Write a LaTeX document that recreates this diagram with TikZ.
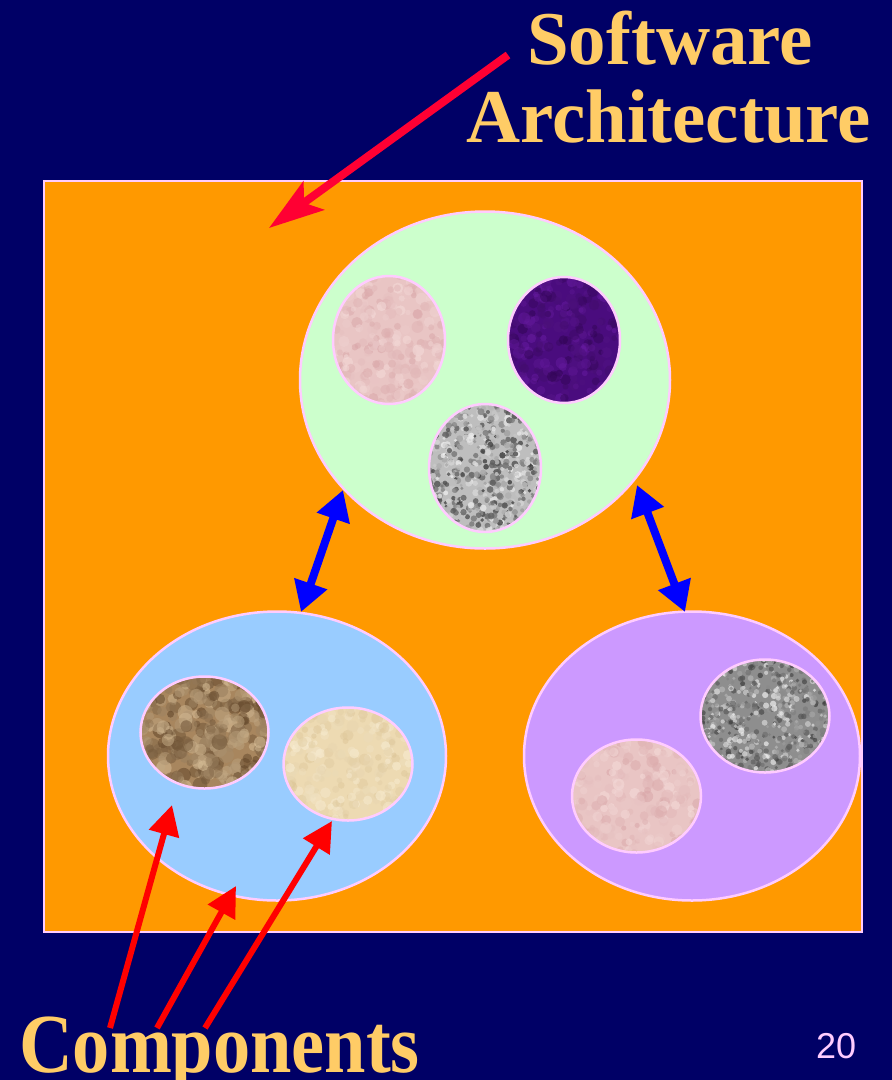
\documentclass[tikz,border=0pt]{standalone}
\usepackage{fontspec}
\setmainfont{Liberation Serif}
\setsansfont{Liberation Sans}
\usetikzlibrary{shapes.geometric,arrows.meta}

\definecolor{bg}{HTML}{000066}
\definecolor{framefill}{HTML}{FF9900}
\definecolor{rim}{HTML}{FFCCFF}
\definecolor{archfill}{HTML}{CCFFCC}
\definecolor{bluefill}{HTML}{99CCFF}
\definecolor{lavfill}{HTML}{CC99FF}
\definecolor{titlecol}{HTML}{FFCC66}
\definecolor{arrowblue}{HTML}{0000FF}
\definecolor{arrowred}{HTML}{FF0000}
\definecolor{arrowcrimson}{HTML}{FF0033}
% texture colours
\definecolor{pinkA}{HTML}{D9A6A8}
\definecolor{pinkB}{HTML}{F5DCDA}
\definecolor{pinkbase}{HTML}{E9C5C4}
\definecolor{purpA}{HTML}{6A1CA6}
\definecolor{purpB}{HTML}{2E0450}
\definecolor{purpbase}{HTML}{4A0C7E}
\definecolor{greyA}{HTML}{3A3A3A}
\definecolor{greyB}{HTML}{F0F0F0}
\definecolor{greybase}{HTML}{BEBEBE}
\definecolor{grey2base}{HTML}{8E8E8E}
\definecolor{brownA}{HTML}{5E4226}
\definecolor{brownB}{HTML}{DCC39C}
\definecolor{brownbase}{HTML}{A8865E}
\definecolor{beigeA}{HTML}{DCC495}
\definecolor{beigeB}{HTML}{FAF0D8}
\definecolor{beigebase}{HTML}{EDDAB2}

% random grain inside a path picture
% #1 count, #2 rx, #3 ry, #4 rmin, #5 rmax, #6 colour A, #7 colour B, #8 opacity
\newcommand\grainfill[8]{%
  \foreach \k in {1,...,#1}{%
    \pgfmathsetmacro\gx{rand*#2}%
    \pgfmathsetmacro\gy{rand*#3}%
    \pgfmathsetmacro\gr{#4+rnd*(#5-#4)}%
    \pgfmathtruncatemacro\gm{random(0,100)}%
    \fill[#6!\gm!#7, opacity=#8]
      ([shift={(\gx,\gy)}]path picture bounding box.center) circle[radius=\gr];
  }%
}

\tikzset{
  bigell/.style={ellipse, draw=rim, line width=2.5pt, inner sep=0pt},
  comp/.style={ellipse, draw=rim, line width=2.5pt, inner sep=0pt},
  bluearrow/.style={draw=arrowblue, line width=8pt,
    {Triangle[length=30pt,width=33pt]}-{Triangle[length=30pt,width=33pt]}},
  redarrow/.style={draw=arrowred, line width=6pt, -{Triangle[length=30pt,width=30pt]}},
  toparrow/.style={draw=arrowcrimson, line width=8pt,
    -{Stealth[length=55pt,width=35pt,inset=12pt]}},
  titletext/.style={font=\fontsize{76}{80}\selectfont\bfseries, text=titlecol,
    inner sep=0pt, anchor=base west},
}

\begin{document}
\begin{tikzpicture}[x=1pt,y=-1pt]
\pgfmathsetseed{2024}
\useasboundingbox (0,0) rectangle (892,1080);
\fill[bg] (0,0) rectangle (892,1080);

% architecture frame
\node[draw=rim, fill=framefill, line width=2pt, inner sep=0pt,
      minimum width=818pt, minimum height=751pt] (frame) at (453,556.5) {};

% big ellipses
\node[bigell, fill=archfill, minimum width=370pt, minimum height=337pt] (arch) at (485,380) {};
\node[bigell, fill=bluefill, minimum width=338pt, minimum height=289pt] (left) at (277,756) {};
\node[bigell, fill=lavfill, minimum width=336pt, minimum height=289pt] (right) at (692,756) {};

% components in the top ellipse
\node[comp, fill=pinkbase, minimum width=112pt, minimum height=128pt,
  path picture={\grainfill{260}{56}{64}{2.5}{6}{pinkA}{pinkB}{0.55}}] (c1) at (389,340) {};
\node[comp, fill=purpbase, minimum width=112pt, minimum height=126pt,
  path picture={\grainfill{260}{56}{63}{2.5}{6}{purpA}{purpB}{0.5}}] (c2) at (564,340) {};
\node[comp, fill=greybase, minimum width=112pt, minimum height=128pt,
  path picture={\grainfill{650}{56}{64}{1.5}{3.5}{greyA}{greyB}{0.8}}] (c3) at (485,468) {};

% components in the left ellipse
\node[comp, fill=brownbase, minimum width=128pt, minimum height=112pt,
  path picture={\grainfill{300}{64}{56}{3}{8}{brownA}{brownB}{0.55}}] (c4) at (204.5,732.5) {};
\node[comp, fill=beigebase, minimum width=129pt, minimum height=113pt,
  path picture={\grainfill{260}{65}{57}{2.5}{6}{beigeA}{beigeB}{0.5}}] (c5) at (348,764) {};

% components in the right ellipse
\node[comp, fill=grey2base, minimum width=129pt, minimum height=113pt,
  path picture={\grainfill{650}{65}{57}{1.5}{3.2}{greyA}{greyB}{0.7}}] (c6) at (765,716) {};
\node[comp, fill=pinkbase, minimum width=129pt, minimum height=113pt,
  path picture={\grainfill{260}{65}{57}{2.5}{6}{pinkA}{pinkB}{0.55}}] (c7) at (636.5,796) {};

% connectors between the big ellipses
\coordinate (lt) at (343,490);
\coordinate (lb) at (301,612);
\coordinate (rt) at (637,485);
\coordinate (rb) at (685,612);
\draw[bluearrow] (lt) -- (lb);
\draw[bluearrow] (rt) -- (rb);

% labels
\node[titletext] (sw) at (527,64) {\scalebox{0.985}[1]{Software}};
\node[titletext] (sa) at (466,142) {\scalebox{0.985}[1]{Architecture}};
\node[font=\fontsize{84}{88}\selectfont\bfseries, text=titlecol, inner sep=0pt,
      anchor=base west] (compo) at (19,1072) {\scalebox{0.885}[1]{Components}};
\node[font=\sffamily\fontsize{36}{40}\selectfont, text=rim, inner sep=0pt,
      anchor=base west] (pageno) at (816,1058) {20};

% pointer arrows
\coordinate (swtail) at (508,55);
\coordinate (swtip) at (269,228);
\draw[toparrow] (swtail) -- (swtip);

\coordinate (t1) at (110,1028);
\coordinate (t2) at (157,1028);
\coordinate (t3) at (205,1028);
\coordinate (h1) at (172,805);
\coordinate (h2) at (236,886);
\coordinate (h3) at (332,821);
\draw[redarrow] (t1) -- (h1);
\draw[redarrow] (t2) -- (h2);
\draw[redarrow] (t3) -- (h3);
\end{tikzpicture}
\end{document}
